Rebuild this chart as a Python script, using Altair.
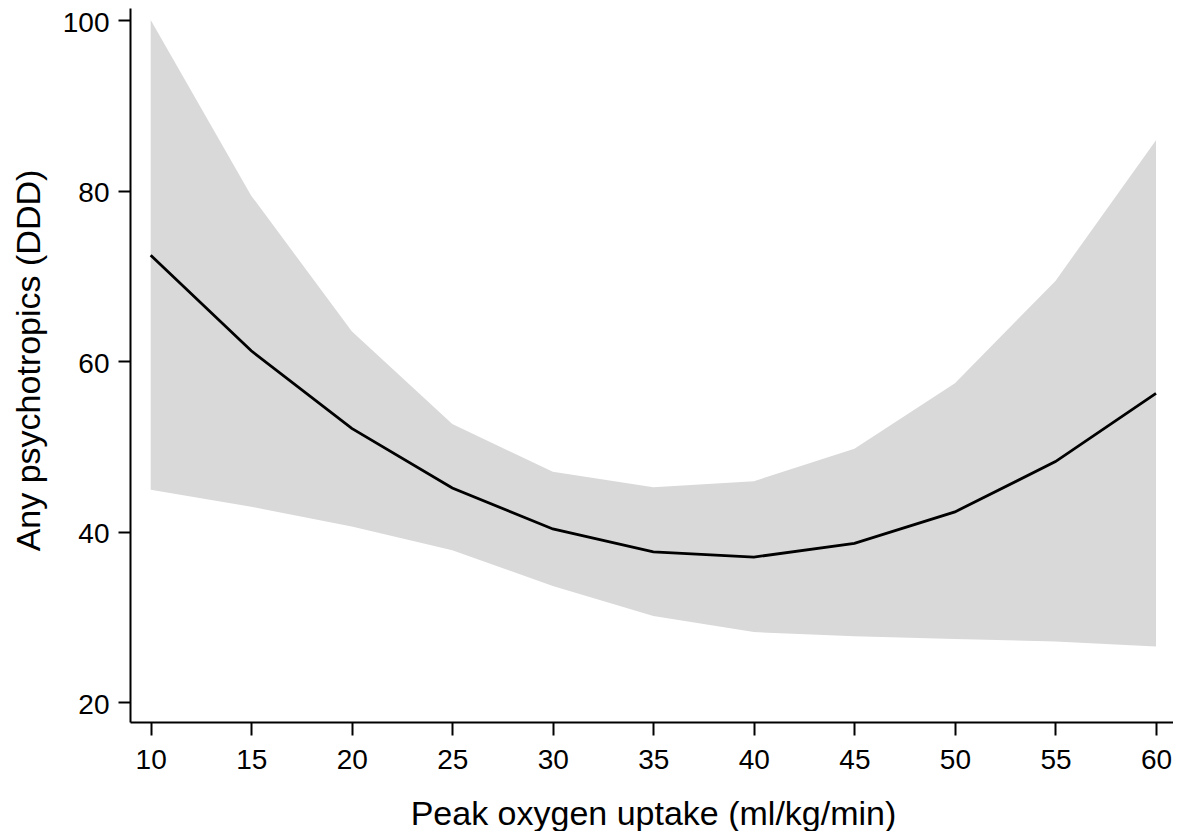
import altair as alt
import pandas as pd

# Peak oxygen uptake (ml/kg/min)
x_vals = [10, 15, 20, 25, 30, 35, 40, 45, 50, 55, 60]
# Estimated DDD of any psychotropics
estimate = [72.4, 61.2, 52.1, 45.1, 40.3, 37.6, 37.0, 38.6, 42.3, 48.2, 56.2]
# 95% confidence band
upper = [100.0, 79.4, 63.5, 52.6, 47.0, 45.2, 45.9, 49.7, 57.4, 69.4, 85.9]
lower = [44.9, 42.9, 40.6, 37.8, 33.6, 30.1, 28.2, 27.7, 27.4, 27.1, 26.5]

x_ticks = [10, 15, 20, 25, 30, 35, 40, 45, 50, 55, 60]
y_ticks = [20, 40, 60, 80, 100]

df = pd.DataFrame({"x": x_vals, "est": estimate, "lo": lower, "hi": upper})

FONT = "Liberation Sans"

x_scale = alt.Scale(domain=[8.9705, 60.846], nice=False, zero=False)
y_scale = alt.Scale(domain=[17.654, 101.41], nice=False, zero=False)

x_axis = alt.Axis(
    title="Peak oxygen uptake (ml/kg/min)",
    values=x_ticks,
    grid=False,
    domainColor="black",
    domainWidth=2,
    tickColor="black",
    tickWidth=2,
    tickSize=13,
    labelFont=FONT,
    labelFontSize=28,
    labelColor="black",
    labelPadding=11,
    titleFont=FONT,
    titleFontSize=34,
    titleFontWeight="normal",
    titleColor="black",
    titleBaseline="alphabetic",
    titleAlign="center",
    titleX=523,
    titleY=102,
)

y_axis = alt.Axis(
    title="Any psychotropics (DDD)",
    values=y_ticks,
    grid=False,
    domainColor="black",
    domainWidth=2,
    tickColor="black",
    tickWidth=2,
    tickSize=12,
    labelFont=FONT,
    labelFontSize=28,
    labelColor="black",
    labelPadding=9,
    labelOffset=3,
    titleFont=FONT,
    titleFontSize=34,
    titleFontWeight="normal",
    titleColor="black",
    titleAngle=270,
    titleBaseline="middle",
    titleAlign="center",
    titleX=-101,
    titleY=352,
)

band = alt.Chart(df).mark_area(color="#d9d9d9", opacity=1).encode(
    x=alt.X("x:Q", scale=x_scale, axis=x_axis),
    y=alt.Y("lo:Q", scale=y_scale, axis=y_axis),
    y2="hi:Q",
)

line = alt.Chart(df).mark_line(color="black", strokeWidth=2.8).encode(
    x=alt.X("x:Q", scale=x_scale, axis=x_axis),
    y=alt.Y("est:Q", scale=y_scale, axis=y_axis),
)

chart = (
    alt.layer(band, line)
    .properties(
        width=1043,
        height=714,
        autosize=alt.AutoSizeParams(type="none"),
        padding={"left": 122, "top": 0, "right": 0, "bottom": 109},
        background="white",
    )
    .configure_view(strokeWidth=0)
)

chart.save("out.html", embed_options={"renderer": "svg", "actions": False})
